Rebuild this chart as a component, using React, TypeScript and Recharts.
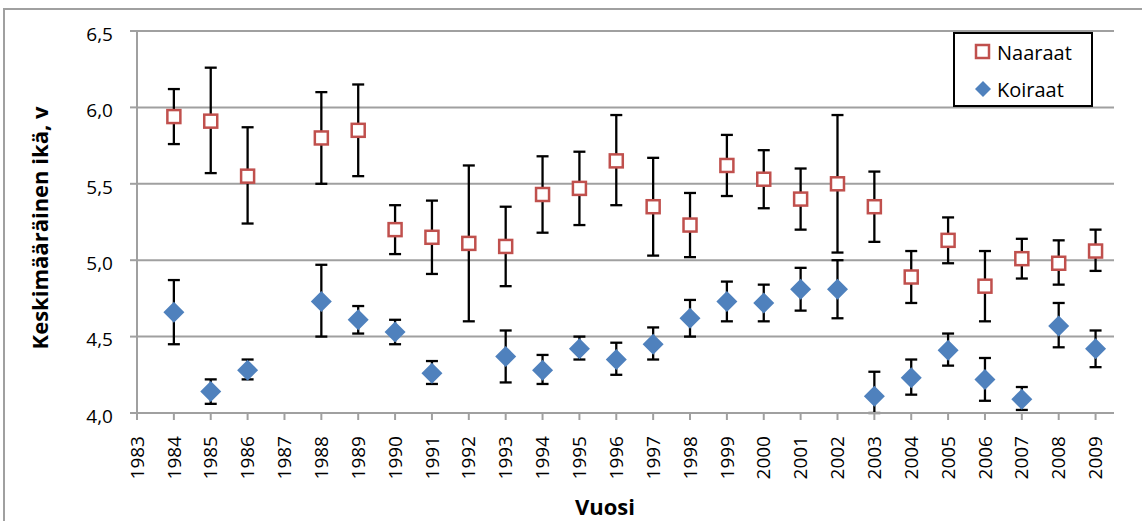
import React from 'react';
import { ScatterChart, Scatter, XAxis, YAxis, CartesianGrid, ErrorBar, Legend } from 'recharts';

// x axis ticks (years) and y axis ticks
const xTicks = [1983, 1984, 1985, 1986, 1987, 1988, 1989, 1990, 1991, 1992, 1993, 1994, 1995, 1996, 1997, 1998, 1999, 2000, 2001, 2002, 2003, 2004, 2005, 2006, 2007, 2008, 2009];
const yTicks = [4.0, 4.5, 5.0, 5.5, 6.0, 6.5];

// Naaraat (females)
const naaraatYears = [1984, 1985, 1986, 1988, 1989, 1990, 1991, 1992, 1993, 1994, 1995, 1996, 1997, 1998, 1999, 2000, 2001, 2002, 2003, 2004, 2005, 2006, 2007, 2008, 2009];
const naaraatMean = [5.94, 5.91, 5.55, 5.80, 5.85, 5.20, 5.15, 5.11, 5.09, 5.43, 5.47, 5.65, 5.35, 5.23, 5.62, 5.53, 5.40, 5.50, 5.35, 4.89, 5.13, 4.83, 5.01, 4.98, 5.06];
const naaraatHigh = [6.12, 6.26, 5.87, 6.10, 6.15, 5.36, 5.39, 5.62, 5.35, 5.68, 5.71, 5.95, 5.67, 5.44, 5.82, 5.72, 5.60, 5.95, 5.58, 5.06, 5.28, 5.06, 5.14, 5.13, 5.20];
const naaraatLow = [5.76, 5.57, 5.24, 5.50, 5.55, 5.04, 4.91, 4.60, 4.83, 5.18, 5.23, 5.36, 5.03, 5.02, 5.42, 5.34, 5.20, 5.05, 5.12, 4.72, 4.98, 4.60, 4.88, 4.84, 4.93];

// Koiraat (males)
const koiraatYears = [1984, 1985, 1986, 1988, 1989, 1990, 1991, 1993, 1994, 1995, 1996, 1997, 1998, 1999, 2000, 2001, 2002, 2003, 2004, 2005, 2006, 2007, 2008, 2009];
const koiraatMean = [4.66, 4.14, 4.28, 4.73, 4.61, 4.53, 4.26, 4.37, 4.28, 4.42, 4.35, 4.45, 4.62, 4.73, 4.72, 4.81, 4.81, 4.11, 4.23, 4.41, 4.22, 4.09, 4.57, 4.42];
const koiraatHigh = [4.87, 4.22, 4.35, 4.97, 4.70, 4.61, 4.34, 4.54, 4.38, 4.50, 4.46, 4.56, 4.74, 4.86, 4.84, 4.95, 5.00, 4.27, 4.35, 4.52, 4.36, 4.17, 4.72, 4.54];
const koiraatLow = [4.45, 4.06, 4.22, 4.50, 4.52, 4.45, 4.19, 4.20, 4.19, 4.35, 4.25, 4.35, 4.50, 4.60, 4.60, 4.67, 4.62, 4.00, 4.12, 4.31, 4.08, 4.02, 4.43, 4.30];

const legendNames = ['Naaraat', 'Koiraat'];

const RED = '#C0504D';
const BLUE = '#4F81BD';
const GRID = '#a0a0a0';
const FONT = '"Open Sans", sans-serif';

const build = (years: number[], mean: number[], low: number[], high: number[]) =>
  years.map((year, i) => ({ year, mean: mean[i], low: low[i], high: high[i] }));

const naaraatData = build(naaraatYears, naaraatMean, naaraatLow, naaraatHigh);
const koiraatData = build(koiraatYears, koiraatMean, koiraatLow, koiraatHigh);

const errRange = (d: any) => [d.mean - d.low, d.high - d.mean];

const SquareMarker = (props: any) => {
  const { cx, cy } = props;
  return <rect x={cx - 6.5} y={cy - 6.5} width={13} height={13} fill="#fff" stroke={RED} strokeWidth={2.5} />;
};

const DiamondMarker = (props: any) => {
  const { cx, cy } = props;
  return <path d={`M${cx} ${cy - 10.5}L${cx + 10.5} ${cy}L${cx} ${cy + 10.5}L${cx - 10.5} ${cy}Z`} fill={BLUE} />;
};

const XTick = (props: any) => {
  const { x, y, payload } = props;
  return (
    <text x={x} y={y} dy="0.35em" textAnchor="end" transform={`rotate(-90 ${x} ${y})`}
      fontSize={19} fontFamily={FONT} fill="#000">
      {payload.value}
    </text>
  );
};

const YTick = (props: any) => {
  const { x, y, payload } = props;
  return (
    <text x={x} y={y + 3} dy="0.355em" textAnchor="end" fontSize={19} fontFamily={FONT} fill="#000">
      {Number(payload.value).toFixed(1).replace('.', ',')}
    </text>
  );
};

const YTitle = () => (
  <text x={48} y={228} transform="rotate(-90 48 228)" textAnchor="middle"
    fontSize={22} fontWeight="bold" fontFamily={FONT} fill="#000">
    Keskimääräinen ikä, v
  </text>
);

const XTitle = () => (
  <text x={605} y={515} textAnchor="middle" fontSize={22} fontWeight="bold" fontFamily={FONT} fill="#000">
    Vuosi
  </text>
);

const LegendBox = () => (
  <div style={{ width: 136, height: 71, border: '2px solid #000', background: '#fff', fontFamily: FONT, fontSize: 20, color: '#000' }}>
    {legendNames.map((name, i) => (
      <div key={name} style={{ display: 'flex', alignItems: 'center', height: 37 }}>
        <svg width={42} height={37} style={{ flex: 'none' }}>
          {i === 0
            ? <rect x={21} y={11} width={13} height={13} fill="#fff" stroke={RED} strokeWidth={2.5} />
            : <path d="M28 10L36 18L28 26L20 18Z" fill={BLUE} />}
        </svg>
        <span style={{ lineHeight: '37px' }}>{name}</span>
      </div>
    ))}
  </div>
);

export default function App() {
  return (
    <div style={{ position: 'absolute', left: 0, top: 0, width: 1142, height: 521, overflow: 'hidden', background: '#fff' }}>
      <div style={{ position: 'absolute', left: 3, top: 8, width: 1300, height: 700, border: `2px solid ${GRID}` }} />
      <div style={{ position: 'absolute', left: 0, top: 0 }}>
        <ScatterChart width={1142} height={521} margin={{ top: 31, right: 28, left: 0, bottom: 0 }}>
          <CartesianGrid vertical={false} stroke={GRID} strokeWidth={2} />
          <XAxis
            type="number"
            dataKey="year"
            domain={[1983, 2009.5]}
            ticks={xTicks}
            interval={0}
            allowDataOverflow
            height={108}
            tickSize={7}
            tickMargin={16}
            tick={<XTick />}
            axisLine={{ stroke: GRID, strokeWidth: 2 }}
            tickLine={{ stroke: GRID, strokeWidth: 2 }}
            label={<XTitle />}
          />
          <YAxis
            type="number"
            dataKey="mean"
            domain={[4, 6.5]}
            ticks={yTicks}
            interval={0}
            allowDataOverflow
            width={137}
            tickSize={7}
            tickMargin={17}
            tick={<YTick />}
            axisLine={{ stroke: GRID, strokeWidth: 2 }}
            tickLine={{ stroke: GRID, strokeWidth: 2 }}
            label={<YTitle />}
          />
          <Legend
            layout="vertical"
            align="center"
            verticalAlign="middle"
            content={<LegendBox />}
            wrapperStyle={{ left: 953, top: 32, width: 140, height: 75 }}
          />
          <Scatter name="Naaraat" data={naaraatData} shape={<SquareMarker />} isAnimationActive={false}>
            <ErrorBar dataKey={errRange} direction="y" width={6} stroke="#000" strokeWidth={2.3} isAnimationActive={false} />
          </Scatter>
          <Scatter name="Koiraat" data={koiraatData} shape={<DiamondMarker />} isAnimationActive={false}>
            <ErrorBar dataKey={errRange} direction="y" width={6} stroke="#000" strokeWidth={2.3} isAnimationActive={false} />
          </Scatter>
        </ScatterChart>
      </div>
    </div>
  );
}
